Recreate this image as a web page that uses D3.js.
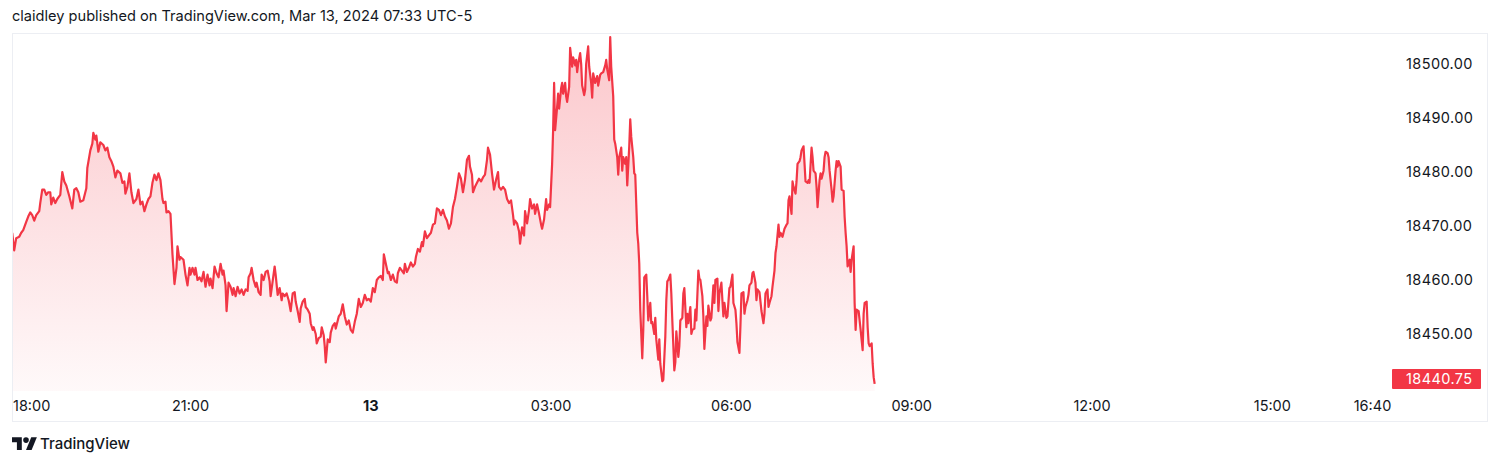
<!DOCTYPE html>
<html><head><meta charset="utf-8">
<script src="https://cdn.jsdelivr.net/npm/d3@7"></script>
<style>body{margin:0;background:#fff;} svg{display:block;font-family:Inter,"Liberation Sans",sans-serif;}</style>
</head><body><svg id="c" width="1500" height="465"></svg>
<script>
const title = "claidley published on TradingView.com, Mar 13, 2024 07:33 UTC-5";
const startUTC = Date.UTC(2024, 2, 12, 18, 0);
const minuteOffsets = [2,4,6,9,11,13,16,18,20,22,24,26,29,30,32,34,36,38,40,41,43,45,47,50,52,54,56,59,62,64,66,68,70,73,76,77,80,82,83,85,86,88,90,93,95,97,99,101,103,105,107,110,112,114,115,117,119,121,123,126,128,130,132,134,136,138,140,142,144,146,148,150,152,153,155,156,158,160,162,164,166,167,169,170,173,175,177,179,180,182,184,185,187,189,191,193,195,197,199,200,202,204,206,208,210,212,213,215,216,218,220,222,223,225,227,229,231,233,235,237,238,240,241,243,245,246,248,250,251,253,255,257,259,260,262,264,265,267,269,271,272,274,276,278,280,282,284,285,287,289,290,292,294,295,297,299,300,302,303,305,306,308,310,311,313,314,315,317,319,320,322,324,325,328,330,332,334,336,338,340,342,344,346,348,350,352,354,356,358,360,362,364,366,368,370,372,373,375,377,378,380,382,384,386,387,389,391,393,394,396,398,400,402,404,405,407,409,411,412,414,416,418,420,422,424,426,428,430,432,434,436,438,440,442,444,446,448,450,452,454,456,458,459,461,462,464,466,468,470,472,474,476,477,479,481,483,485,487,488,490,492,494,496,498,500,502,503,504,506,508,509,511,513,514,516,518,519,521,523,524,526,528,530,531,533,535,536,538,539,541,542,543,544,546,547,548,550,551,552,554,555,556,558,559,561,562,564,565,566,567,569,570,571,573,574,575,577,578,580,581,582,584,586,587,589,590,592,594,595,596,598,599,600,602,603,604,606,607,608,610,611,612,614,615,616,618,619,620,622,623,624,626,627,628,629,631,632,633,635,636,637,639,640,641,643,644,645,647,648,649,651,652,654,655,656,657,659,660,661,663,664,665,667,668,669,671,672,673,675,676,677,679,680,681,683,684,685,687,688,689,691,692,693,695,696,697,699,700,702,703,704,706,707,708,710,711,712,713,715,716,718,719,721,722,724,725,726,728,729,730,732,733,734,736,737,738,740,741,742,744,745,746,748,749,750,752,753,754,756,757,758,760,761,763,764,765,767,768,769,771,772,773,775,776,777,778,780,781,782,784,785,786,788,789,790,792,793,794,796,797,798,800,801,802,804,805,806,808,809,810,812,813,814,816,817,818,820,821,822,824,825,826,827,829,830,832,833,834,835,836,838,839,840,842,843,844,845,847,848,849,851,852,853,855,856,857,858,860,861,862,863];
const prices = [
18468.75,18465.5,18467.75,18468.0,18468.75,18469.25,18470.75,18471.75,18472.5,18472.0,
18471.0,18472.0,18472.75,18474.25,18476.75,18476.75,18475.75,18476.25,18476.25,18474.0,
18475.25,18474.25,18475.0,18475.75,18480.0,18478.25,18477.5,18475.5,18473.25,18476.75,
18477.0,18476.25,18474.5,18474.75,18477.0,18480.75,18484.0,18485.25,18487.25,18486.0,
18486.75,18483.75,18485.5,18485.0,18484.0,18484.5,18482.75,18482.0,18481.0,18479.0,
18480.25,18479.75,18478.0,18478.25,18476.0,18477.25,18479.75,18476.25,18474.25,18475.0,
18476.75,18474.0,18474.5,18472.75,18474.0,18475.0,18475.5,18478.0,18479.5,18478.5,
18479.75,18478.5,18475.0,18474.25,18474.5,18472.5,18472.75,18472.25,18464.75,18459.25,
18462.25,18466.25,18463.75,18464.25,18463.75,18461.0,18459.0,18462.25,18461.0,18462.25,
18461.0,18462.25,18460.0,18460.5,18459.75,18461.5,18458.75,18461.0,18459.0,18460.25,
18458.5,18462.5,18461.25,18460.5,18463.0,18461.0,18461.75,18459.0,18454.25,18459.5,
18458.75,18457.25,18458.5,18457.0,18458.75,18457.5,18458.25,18457.25,18458.25,18458.0,
18460.5,18461.25,18462.25,18460.0,18458.75,18459.5,18457.75,18457.25,18461.0,18460.0,
18461.5,18461.75,18459.75,18457.0,18459.75,18462.5,18461.0,18457.25,18458.5,18456.25,
18457.5,18457.0,18457.5,18456.25,18454.25,18457.5,18457.75,18456.0,18454.25,18452.25,
18454.75,18456.0,18456.5,18455.0,18454.5,18453.75,18452.0,18450.75,18451.25,18450.0,
18448.25,18449.25,18449.5,18451.25,18449.75,18447.75,18444.75,18449.0,18448.5,18450.25,
18451.5,
18452.0,18451.0,18453.25,18453.75,18455.5,18453.25,18451.75,18452.5,18450.75,18450.25,
18452.25,18453.75,18456.5,18455.0,18455.75,18457.25,18456.25,18456.5,18456.0,18458.5,
18457.75,18460.0,18460.5,18460.75,18460.0,18464.75,18463.0,18461.25,18461.5,18460.0,
18461.0,18459.75,18459.5,18461.25,18462.25,18461.75,18461.25,18463.0,18461.5,18462.25,
18463.25,18462.5,18463.0,18464.25,18465.75,18465.25,18467.0,18466.25,18469.0,18467.75,
18468.25,18468.75,18470.25,18470.5,18473.25,18473.0,18472.0,18473.0,18471.75,18471.0,
18469.5,18470.5,18473.5,18475.0,18477.25,18479.75,18478.75,18476.25,18478.5,18482.25,
18483.0,18481.0,18479.5,18476.25,18477.25,18478.0,18478.75,18478.25,18479.0,18479.5,
18482.25,18484.5,18483.25,18479.75,18476.75,18478.5,18480.0,18477.25,18476.75,18477.25,
18476.75,18475.0,18474.25,18474.75,18472.0,18470.25,18471.0,18470.5,18469.0,18466.75,
18469.75,18468.25,18472.75,18470.5,18473.0,18475.0,18473.25,18474.0,18472.25,18474.0,
18472.25,18470.25,18469.5,18471.25,18475.0,18473.0,18474.0,18473.5,18481.5,18487.75,
18496.5,18487.75,18492.0,18494.5,18491.75,18495.5,18496.5,18494.5,18496.5,18494.0,
18493.0,18495.75,18503.0,18499.5,18501.25,18499.75,18500.75,18498.5,18500.0,18502.0,
18500.0,18496.0,18494.25,18495.25,18500.0,18503.25,18499.5,18496.5,18493.75,18498.25,
18496.5,18497.75,18496.0,18498.0,18498.25,18498.5,18499.75,18500.75,18499.0,18497.0,
18505.0,18499.5,18494.0,18486.0,18485.25,18482.75,18479.5,18482.75,18484.5,18480.25,
18482.75,18481.5,18482.75,18477.5,18484.75,18489.75,18486.5,18482.75,18479.75,18479.5,
18468.75,18466.75,18463.0,18454.5,18445.5,18450.75,18460.5,18461.0,18457.0,18452.5,
18455.75,18452.0,18452.25,18450.0,18453.0,18449.0,18445.25,18449.0,18444.5,18441.25,
18441.5,18449.5,18456.25,18459.75,18460.0,18461.0,18457.5,18452.5,18443.25,18444.75,
18450.5,18445.75,18447.75,18452.5,18453.0,18457.5,18458.5,18451.25,18453.75,18452.0,
18455.0,18450.0,18450.75,18451.0,18454.5,18452.5,18461.75,18460.25,18460.0,18457.0,
18453.25,18447.25,18453.25,18451.5,18455.25,18452.5,18453.0,18459.0,18455.75,18460.0,
18460.25,18454.25,18457.5,18459.5,18456.25,18453.25,18455.75,18453.0,18453.25,18458.5,
18458.75,18461.0,18455.75,18454.5,18452.0,18448.5,18446.5,18451.5,18457.5,18457.75,
18453.75,18455.0,18456.25,18457.25,18459.0,18459.5,18461.25,18461.5,18459.5,18456.25,
18458.25,18457.75,18456.0,18454.25,18452.0,18453.75,18457.5,18458.25,18455.0,18455.75,
18457.0,18458.75,18461.75,18465.0,18466.25,18470.25,18468.0,18468.75,18468.0,18468.75,
18469.5,18470.25,18470.5,18474.75,18475.5,18472.25,18478.25,18477.25,18476.0,18478.25,
18481.5,18482.0,18482.75,18484.0,18484.75,18481.5,18478.25,18478.0,18478.5,18478.0,
18484.5,18482.75,18480.25,18479.75,18477.25,18473.5,18478.5,18479.75,18478.75,18480.25,
18482.75,18483.75,18483.5,18482.75,18480.25,18476.75,18474.5,18475.5,18480.25,18482.0,
18481.0,18482.0,18481.0,18476.75,18476.5,18471.75,18468.75,18466.25,18462.5,18463.75,
18461.5,18463.75,18466.25,18455.75,18450.75,18454.5,18454.25,18452.5,18450.75,18447.0,
18453.75,18455.75,18456.0,18451.25,18448.25,18447.75,18448.25,18444.5,18442.0,18440.75];
const priceTicks = [18450, 18460, 18470, 18480, 18490, 18500];
const timeTickOffsets = [0, 180, 360, 540, 720, 900, 1080, 1260, 1360];
const timeTickLabels = ["18:00", "21:00", "13", "03:00", "06:00", "09:00", "12:00", "15:00", "16:40"];
const timeTickBold = [false, false, true, false, false, false, false, false, false];
const lastPrice = 18440.75;

const LINE = "#F23645";
const TEXT = "#131722";
const svg = d3.select("#c");
const paneL = 13, paneT = 34, paneR = 1390, paneB = 391;

const t0 = new Date(startUTC);
const x = d3.scaleUtc()
  .domain([t0, new Date(startUTC + 1360 * 60000)])
  .range([10.2, 1372.5]);
const y = d3.scaleLinear().domain([18450, 18500]).range([334, 64]);

const data = minuteOffsets.map((m, i) => ({ t: new Date(startUTC + m * 60000), v: prices[i] }));

// header
svg.append("text").attr("x", 12).attr("y", 21).attr("font-size", 14.6)
  .attr("fill", TEXT).text(title);

// frame
svg.append("rect").attr("x", 12.5).attr("y", 33.5).attr("width", 1475).attr("height", 388)
  .attr("fill", "none").attr("stroke", "#eceef3");

const defs = svg.append("defs");
defs.append("clipPath").attr("id", "pane").append("rect")
  .attr("x", paneL).attr("y", paneT).attr("width", paneR - paneL).attr("height", paneB - paneT);
const maxV = d3.max(prices);
const grad = defs.append("linearGradient").attr("id", "fillGrad")
  .attr("gradientUnits", "userSpaceOnUse")
  .attr("x1", 0).attr("x2", 0).attr("y1", y(maxV)).attr("y2", paneB);
grad.append("stop").attr("offset", 0).attr("stop-color", LINE).attr("stop-opacity", 0.28);
grad.append("stop").attr("offset", 1).attr("stop-color", LINE).attr("stop-opacity", 0.03);

const g = svg.append("g").attr("clip-path", "url(#pane)");
g.append("path").datum(data)
  .attr("d", d3.area().x(d => x(d.t)).y0(paneB).y1(d => y(d.v)))
  .attr("fill", "url(#fillGrad)");
g.append("path").datum(data)
  .attr("d", d3.line().x(d => x(d.t)).y(d => y(d.v)))
  .attr("fill", "none").attr("stroke", LINE).attr("stroke-width", 2.2)
  .attr("stroke-linejoin", "round");

// price axis labels
const yAxisG = svg.append("g").attr("font-size", 14.5).attr("letter-spacing", 0.4).attr("fill", TEXT);
priceTicks.forEach(v => {
  yAxisG.append("text").attr("x", 1406).attr("y", y(v)).attr("dy", "0.36em")
    .text(d3.format(".2f")(v));
});
// last price label
const lpY = Math.min(y(lastPrice), paneB - 2 - 10);
svg.append("rect").attr("x", 1392).attr("y", lpY - 10).attr("width", 89).attr("height", 20)
  .attr("fill", LINE).attr("rx", 1);
svg.append("text").attr("x", 1406).attr("y", lpY).attr("dy", "0.36em")
  .attr("font-size", 14.5).attr("letter-spacing", 0.4).attr("fill", "#fff").text(d3.format(".2f")(lastPrice));

// time axis labels
const xAxisG = svg.append("g").attr("font-size", 14.5).attr("fill", TEXT);
timeTickOffsets.forEach((m, i) => {
  const tx = x(new Date(startUTC + m * 60000));
  const el = xAxisG.append("text").attr("y", 411).attr("text-anchor", "middle")
    .attr("font-weight", timeTickBold[i] ? 700 : 400).text(timeTickLabels[i]);
  const w = el.node().getComputedTextLength();
  el.attr("x", Math.max(tx, paneL + w / 2));
});

// logo
const logo = svg.append("g").attr("transform", "translate(12,434.5) scale(0.7)").attr("fill", TEXT);
logo.append("path").attr("d", "M14 22H7V11H0V4h14v18z");
logo.append("path").attr("d", "M28 22h-8l7.5-18h8L28 22z");
logo.append("circle").attr("cx", 20).attr("cy", 8).attr("r", 4);
svg.append("text").attr("x", 40).attr("y", 449).attr("font-size", 15).attr("font-weight", 500)
  .attr("fill", TEXT).text("TradingView");
</script></body></html>
